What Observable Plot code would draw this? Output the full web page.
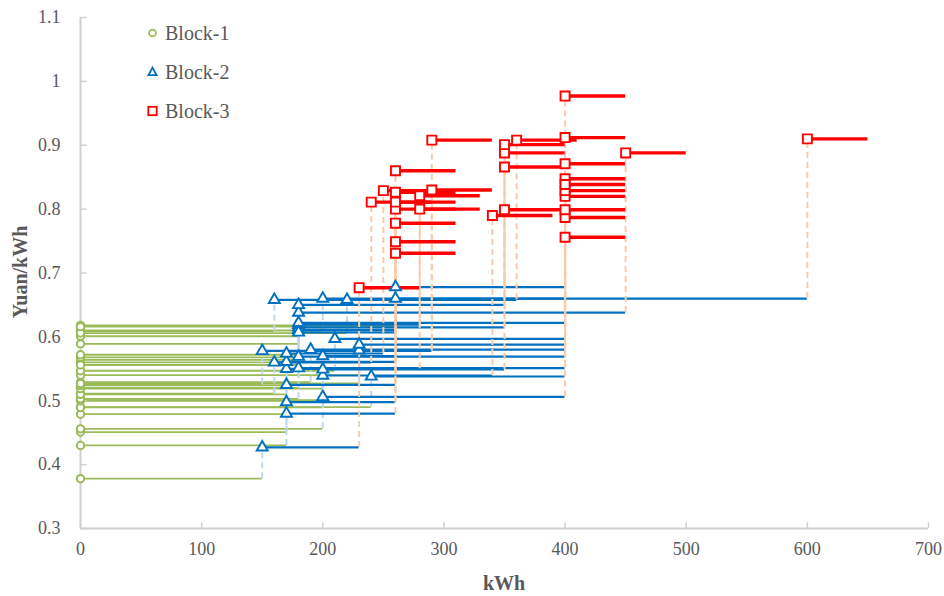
<!DOCTYPE html>
<html>
<head>
<meta charset="utf-8">
<script src="https://cdn.jsdelivr.net/npm/d3@7"></script>
<script src="https://cdn.jsdelivr.net/npm/@observablehq/plot@0.6"></script>
<style>
  html, body { margin: 0; padding: 0; background: #fff; }
  #wrap { position: relative; width: 944px; height: 596px; font-family: "Liberation Serif", "Times New Roman", Times, serif; color: #595959; }
  #chart svg { display: block; }
  .legend { position: absolute; left: 144px; top: 18px; font-size: 20px; }
  .legend .row { position: absolute; left: 0; height: 30px; display: flex; align-items: center; white-space: nowrap; }
  .legend svg { margin-right: 4px; }
  .ytitle { position: absolute; left: 20px; top: 272px; transform: translate(-50%, -50%) rotate(-90deg); font-weight: bold; font-size: 20px; white-space: nowrap; }
  .xtitle { position: absolute; left: 504px; top: 583px; transform: translate(-50%, -50%); font-weight: bold; font-size: 20px; }
</style>
</head>
<body>
<div id="wrap">
  <div id="chart"></div>
  <div class="legend">
    <div class="row" style="top:0px"><svg width="17" height="16"><circle cx="8.5" cy="8" r="3.4" fill="white" stroke="#9BBB59" stroke-width="1.8"/></svg>Block-1</div>
    <div class="row" style="top:39px"><svg width="17" height="16"><path d="M8.5,3.6 L12.6,11.2 L4.4,11.2 Z" fill="white" stroke="#0070C0" stroke-width="1.8"/></svg>Block-2</div>
    <div class="row" style="top:78px"><svg width="17" height="16"><rect x="4.3" y="3.8" width="8.4" height="8.4" fill="white" stroke="#FF0000" stroke-width="1.8"/></svg>Block-3</div>
  </div>
  <div class="ytitle">Yuan/kWh</div>
  <div class="xtitle">kWh</div>
</div>
<script>
// Block-1 price (Yuan/kWh), Block-1 upper limit (kWh)
const p1 = [0.378, 0.430, 0.451, 0.456, 0.479, 0.490, 0.4895, 0.501, 0.500, 0.503, 0.511, 0.510, 0.520, 0.519, 0.526, 0.524, 0.529, 0.527, 0.540, 0.547, 0.560, 0.564, 0.568, 0.572, 0.589, 0.601, 0.609, 0.610, 0.606, 0.618, 0.616, 0.556];
const L1 = [150, 170, 170, 200, 170, 240, 200, 200, 170, 180, 160, 170, 180, 200, 150, 170, 190, 230, 230, 210, 180, 180, 180, 180, 180, 180, 160, 200, 220, 260, 260, 180];
// Block-2 price, Block-2 upper limit (kWh)
const p2 = [0.427, 0.480, 0.498, 0.506, 0.525, 0.538, 0.5395, 0.549, 0.550, 0.551, 0.560, 0.561, 0.569, 0.570, 0.578, 0.574, 0.580, 0.579, 0.588, 0.597, 0.611, 0.615, 0.619, 0.622, 0.638, 0.650, 0.658, 0.660, 0.658, 0.660, 0.678, 0.607];
const L2 = [230, 260, 260, 400, 260, 400, 340, 350, 280, 400, 240, 260, 400, 260, 290, 250, 400, 290, 400, 400, 260, 350, 280, 400, 450, 350, 360, 600, 350, 400, 400, 260];
// Block-3 price
const p3 = [0.677, 0.731, 0.749, 0.756, 0.778, 0.787, 0.790, 0.799, 0.800, 0.799, 0.811, 0.800, 0.820, 0.811, 0.830, 0.829, 0.829, 0.908, 0.8475, 0.871, 0.8265, 0.866, 0.821, 0.8385, 0.888, 0.888, 0.908, 0.910, 0.901, 0.912, 0.977, 0.860];
const block3Span = 50; // kWh shown for the open-ended block 3

const xTicks = [0, 100, 200, 300, 400, 500, 600, 700];
const yTicks = [0.3, 0.4, 0.5, 0.6, 0.7, 0.8, 0.9, 1.0, 1.1];

const rows = p1.map((v, i) => ({p1: v, L1: L1[i], p2: p2[i], L2: L2[i], p3: p3[i], L3: L2[i] + block3Span}));

const green = "#9BBB59", blue = "#0070C0", red = "#FF0000";
const axisGray = "#D0D0D0";

const chart = Plot.plot({
  width: 944,
  height: 596,
  marginLeft: 80,
  marginRight: 16,
  marginTop: 17,
  marginBottom: 68,
  style: {fontFamily: "'Liberation Serif', 'Times New Roman', Times, serif", fontSize: "18px", color: "#595959", background: "white"},
  x: {domain: [0, 700]},
  y: {domain: [0.3, 1.1]},
  marks: [
    Plot.ruleY(rows, {y: "p1", x1: 0, x2: "L1", stroke: green, strokeWidth: 1.8}),
    Plot.ruleX(rows, {x: "L1", y1: "p1", y2: "p2", stroke: "#BDD7EE", strokeWidth: 2, strokeDasharray: "6,4"}),
    Plot.ruleY(rows, {y: "p2", x1: "L1", x2: "L2", stroke: blue, strokeWidth: 2.2}),
    Plot.ruleX(rows, {x: "L2", y1: "p2", y2: "p3", stroke: "#F8CBAD", strokeWidth: 2, strokeDasharray: "6,4"}),
    Plot.ruleY(rows, {y: "p3", x1: "L2", x2: "L3", stroke: red, strokeWidth: 3.4}),
    Plot.ruleX([0], {stroke: axisGray, strokeWidth: 2}),
    Plot.ruleY([0.3], {stroke: axisGray, strokeWidth: 2}),
    Plot.ruleY(yTicks, {y: d => d, x1: 0, x2: 5.5, stroke: axisGray, strokeWidth: 1.5}),
    Plot.ruleX(xTicks, {x: d => d, y1: 0.3, y2: 0.309, stroke: axisGray, strokeWidth: 1.5}),
    Plot.dot(rows, {x: 0, y: "p1", symbol: "circle", r: 3.7, fill: "white", stroke: green, strokeWidth: 2}),
    Plot.dot(rows, {x: "L1", y: "p2", symbol: "triangle", r: 4.1, fill: "white", stroke: blue, strokeWidth: 1.9}),
    Plot.dot(rows, {x: "L2", y: "p3", symbol: "square", r: 5.1, fill: "white", stroke: red, strokeWidth: 1.9}),
    Plot.axisX(xTicks, {tickSize: 0, tickPadding: 14, label: null, fontSize: 18, fill: "#595959"}),
    Plot.axisY(yTicks, {tickSize: 0, tickPadding: 20, label: null, fontSize: 18, fill: "#595959",
      tickFormat: d => String(+d.toFixed(1))})
  ]
});
document.getElementById("chart").appendChild(chart);
</script>
</body>
</html>
